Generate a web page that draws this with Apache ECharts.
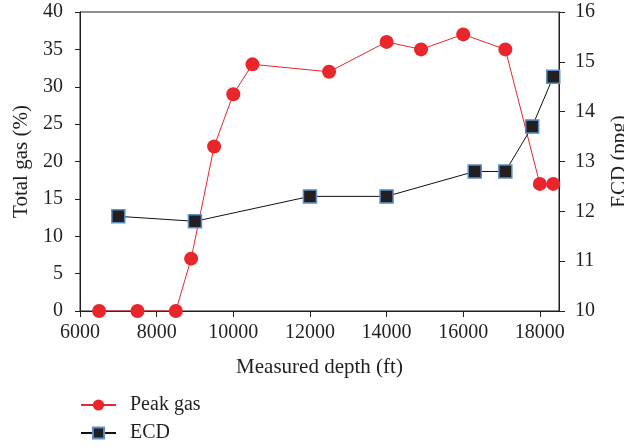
<!DOCTYPE html>
<html><head><meta charset="utf-8">
<script src="https://cdn.jsdelivr.net/npm/echarts@6/dist/echarts.min.js"></script>
<style>html,body{margin:0;padding:0;background:#fff}#c{width:624px;height:447px}</style>
</head><body><div id="c"></div>
<script>
const peakDepth = [6500, 7500, 8500, 8900, 9500, 10000, 10500, 12500, 14000, 14900, 16000, 17100, 18000, 18350];
const peakGas = [0, 0, 0, 7, 22, 29, 33, 32, 36, 35, 37, 35, 17, 17];
const ecdDepth = [7000, 9000, 12000, 14000, 16300, 17100, 17800, 18350];
const ecdVal = [11.9, 11.8, 12.3, 12.3, 12.8, 12.8, 13.7, 14.7];
const xTicks = [6000, 8000, 10000, 12000, 14000, 16000, 18000];

const FONT = 'Liberation Serif';
const TXT = '#231f20';
const chart = echarts.init(document.getElementById('c'));
const axisCommon = {
  axisLine: {show: true, lineStyle: {color: TXT, width: 1}},
  axisTick: {show: true, inside: false, length: 5, lineStyle: {color: TXT}},
  splitLine: {show: false},
  axisLabel: {color: TXT, fontFamily: FONT, fontSize: 20, margin: 17},
  nameTextStyle: {color: TXT, fontFamily: FONT, fontSize: 21}
};
chart.setOption({
  animation: false,
  backgroundColor: '#fff',
  grid: {left: 80, right: 65, top: 12, bottom: 136, show: true, borderColor: TXT, borderWidth: 1,
         containLabel: false, outerBoundsMode: 'none'},
  legend: {
    orient: 'vertical', left: 80, top: 395, padding: 0, itemGap: 8, itemWidth: 35, itemHeight: 14,
    textStyle: {color: TXT, fontFamily: FONT, fontSize: 20, padding: [0, 0, 0, 9]},
    data: ['Peak gas', 'ECD']
  },
  xAxis: Object.assign({}, axisCommon, {
    type: 'value', min: 6000, max: 18500, interval: 2000,
    name: 'Measured depth (ft)', nameLocation: 'middle', nameGap: 46,
    axisTick: {show: true, length: 6, lineStyle: {color: TXT}},
    axisLabel: Object.assign({}, axisCommon.axisLabel, {margin: 12, showMaxLabel: false,
      formatter: v => xTicks.includes(v) ? String(v) : ''})
  }),
  yAxis: [
    Object.assign({}, axisCommon, {
      type: 'value', min: 0, max: 40, interval: 5, position: 'left',
      name: 'Total gas (%)', nameLocation: 'middle', nameGap: 47
    }),
    Object.assign({}, axisCommon, {
      type: 'value', min: 10, max: 16, interval: 1, position: 'right',
      name: 'ECD (ppg)', nameLocation: 'middle', nameGap: 50,
      axisTick: {show: true, length: 6, lineStyle: {color: TXT}},
      axisLabel: Object.assign({}, axisCommon.axisLabel, {margin: 16})
    })
  ],
  series: [
    {
      name: 'Peak gas', type: 'line', yAxisIndex: 0,
      data: peakDepth.map((d, i) => [d, peakGas[i]]),
      symbol: 'circle', symbolSize: 14,
      lineStyle: {color: '#e8262b', width: 1},
      itemStyle: {color: '#e8262b', borderWidth: 0}
    },
    {
      name: 'ECD', type: 'line', yAxisIndex: 1,
      data: ecdDepth.map((d, i) => [d, ecdVal[i]]),
      symbol: 'rect', symbolSize: 13,
      lineStyle: {color: '#111', width: 1},
      itemStyle: {color: '#231f20', borderColor: '#5b8fc9', borderWidth: 1.5}
    }
  ]
});
</script></body></html>
